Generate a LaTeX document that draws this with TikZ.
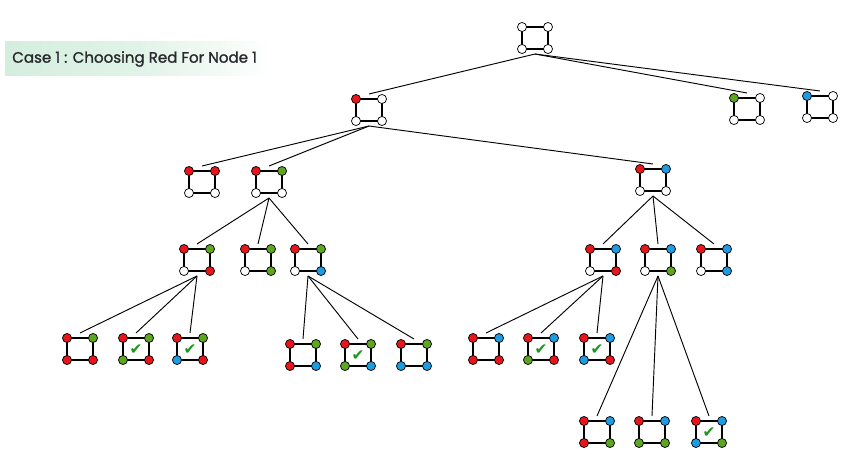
\documentclass[tikz,border=0pt]{standalone}
\usepackage{fontspec}
\newfontfamily\titlefont{Poppins}[FakeBold=1.4]
\newfontfamily\symfont{DejaVu Sans}
\definecolor{vred}{RGB}{230,22,26}
\definecolor{vgreen}{RGB}{92,166,32}
\definecolor{vblue}{RGB}{30,156,226}
\definecolor{W}{RGB}{255,255,255}
\colorlet{R}{vred}
\colorlet{G}{vgreen}
\colorlet{B}{vblue}
\definecolor{tickgreen}{RGB}{28,150,30}
\definecolor{titlebg}{RGB}{212,238,222}
\definecolor{titleink}{RGB}{40,42,46}

\tikzset{
  gbox/.style={minimum width=19.5pt, minimum height=24pt, inner sep=0pt, outer sep=0pt},
  vtx/.style={circle, draw=black, line width=0.55pt, minimum size=6.8pt, inner sep=0pt},
  gedge/.style={line width=1pt, black},
  link/.style={line width=0.7pt, black},
  tick/.style={text=tickgreen, font=\symfont\fontsize{11.5}{11.5}\selectfont, inner sep=0pt}
}

% one colouring of the 4-cycle: name, x, y, top-left, top-right, bottom-left, bottom-right
\newcommand\colgraph[7]{%
  \node[gbox] (#1) at (#2,#3) {};
  \draw[gedge] (#1.center) ++(-13,-11) rectangle ++(26,22);
  \path (#1.center) ++(-13,-11) node[vtx, fill=#4] (#1-tl) {};
  \path (#1.center) ++(13,-11) node[vtx, fill=#5] (#1-tr) {};
  \path (#1.center) ++(-13,11) node[vtx, fill=#6] (#1-bl) {};
  \path (#1.center) ++(13,11) node[vtx, fill=#7] (#1-br) {};
}
% a valid colouring gets a tick in its middle
\newcommand\valid[1]{\node[tick] (#1-ok) at ([yshift=-0.5pt]#1.center) {✔};}

\begin{document}
\begin{tikzpicture}[x=0.75pt, y=-0.75pt]
\useasboundingbox (0,0) rectangle (850,460);
\fill[white] (0,0) rectangle (850,460);

% heading
\shade[left color=titlebg, right color=white, middle color=titlebg!70] (5,42) rectangle (272,76);
\node[anchor=west, inner sep=0pt, text=titleink, font=\titlefont\fontsize{11.3}{12}\selectfont] (title) at (12,59) {Case 1 : Choosing Red For Node 1};

% level 0
\colgraph{root}{535}{38}{W}{W}{W}{W}
% level 1
\colgraph{a}{369}{110}{R}{W}{W}{W}
\colgraph{b}{747}{109}{G}{W}{W}{W}
\colgraph{c}{820}{107}{B}{W}{W}{W}
% level 2
\colgraph{d}{202}{182}{R}{R}{W}{W}
\colgraph{e}{269}{182}{R}{G}{W}{W}
\colgraph{f}{653}{180}{R}{B}{W}{W}
% level 3
\colgraph{g}{197}{260}{R}{G}{W}{R}
\colgraph{h}{258}{260}{R}{G}{W}{G}
\colgraph{i}{308}{260}{R}{G}{W}{B}
\colgraph{j}{603}{260}{R}{B}{W}{R}
\colgraph{k}{658}{260}{R}{B}{W}{G}
\colgraph{l}{714}{260}{R}{B}{W}{B}
% level 4
\colgraph{g1}{80}{349}{R}{G}{R}{R}
\colgraph{g2}{136}{349}{R}{G}{G}{R}
\colgraph{g3}{190}{349}{R}{G}{B}{R}
\colgraph{i1}{303}{355}{R}{G}{R}{B}
\colgraph{i2}{358}{355}{R}{G}{G}{B}
\colgraph{i3}{414}{355}{R}{G}{B}{B}
\colgraph{j1}{486}{349}{R}{B}{R}{R}
\colgraph{j2}{541}{349}{R}{B}{G}{R}
\colgraph{j3}{597}{349}{R}{B}{B}{R}
\colgraph{k1}{597}{432}{R}{B}{R}{G}
\colgraph{k2}{652}{432}{R}{B}{G}{G}
\colgraph{k3}{709}{432}{R}{B}{B}{G}

\valid{g2}\valid{g3}\valid{i2}\valid{j2}\valid{j3}\valid{k3}

% search tree
\foreach \p/\q in {root/a, root/b, root/c,
                   a/d, a/e, a/f,
                   e/g, e/h, e/i,
                   f/j, f/k, f/l,
                   g/g1, g/g2, g/g3,
                   i/i1, i/i2, i/i3,
                   j/j1, j/j2, j/j3,
                   k/k1, k/k2, k/k3}
  \draw[link] (\p.south) -- (\q.north);
\end{tikzpicture}
\end{document}
